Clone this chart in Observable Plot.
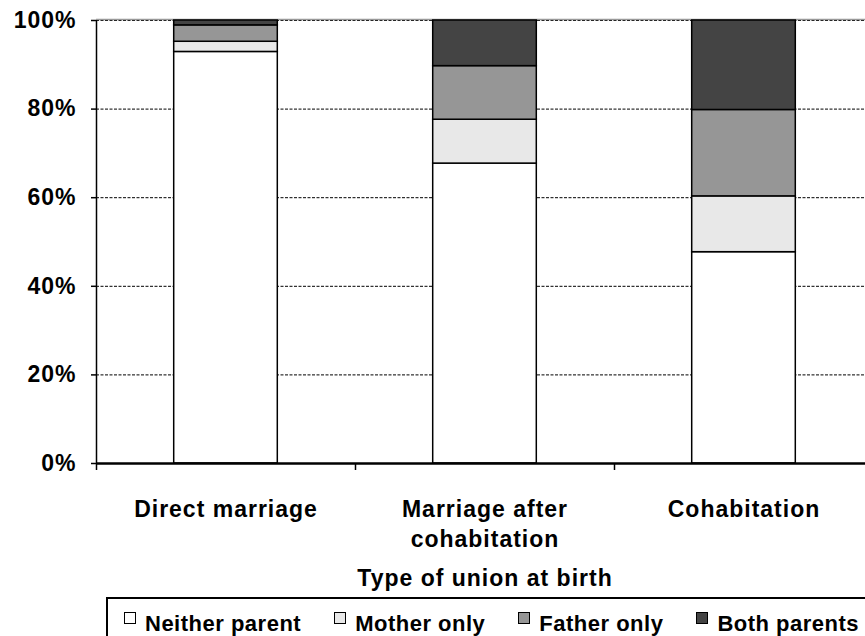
<!DOCTYPE html>
<html>
<head>
<meta charset="utf-8">
<script src="https://cdn.jsdelivr.net/npm/d3@7"></script>
<script src="https://cdn.jsdelivr.net/npm/@observablehq/plot@0.6"></script>
<style>
  html, body { margin: 0; padding: 0; background: #fff; overflow: hidden; }
  body { width: 865px; height: 636px; position: relative; font-family: "Liberation Sans", Arial, sans-serif; }
  #chart svg text { letter-spacing: 1px; }
  #legend {
    position: absolute; left: 106px; top: 597px; width: 780px; height: 50px;
    border: 2px solid #000; box-sizing: border-box; background: #fff;
    font-weight: bold; font-size: 22px; color: #000; letter-spacing: 0.5px;
    display: flex; align-items: baseline; padding: 12px 0 0 16px; white-space: nowrap;
  }
  .item { display: inline-flex; align-items: baseline; margin-right: 33px; }
  .sw { display: inline-block; width: 10px; height: 10px; border: 1.2px solid #000; margin-right: 9px; position: relative; top: -7px; }
</style>
</head>
<body>
<div id="chart"></div>
<div id="legend"></div>
<script>
const categories = ["Direct marriage", "Marriage after\ncohabitation", "Cohabitation"];
const series = ["Neither parent", "Mother only", "Father only", "Both parents"];
const neitherParent = [92.9, 67.7, 47.7];
const motherOnly   = [2.3, 9.9, 12.6];
const fatherOnly   = [3.7, 12.1, 19.5];
const bothParents  = [1.1, 10.3, 20.2];
const yTicks = [0, 20, 40, 60, 80, 100];
const colors = ["#ffffff", "#e8e8e8", "#969696", "#444444"];

const values = [neitherParent, motherOnly, fatherOnly, bothParents];
const rows = [];
categories.forEach((c, i) => {
  let acc = 0;
  series.forEach((s, k) => {
    const v = values[k][i];
    rows.push({i, category: c, series: s, y1: acc, y2: acc + v});
    acc += v;
  });
});

const font = "Liberation Sans, Arial, sans-serif";
const chart = Plot.plot({
  width: 865,
  height: 595,
  marginTop: 20,
  marginBottom: 132,
  marginLeft: 96,
  marginRight: 0,
  style: {fontFamily: font, background: "#fff", overflow: "visible"},
  x: {domain: [0, 3], range: [96, 873]},
  y: {domain: [0, 100]},
  color: {domain: series, range: colors},
  marks: [
    Plot.ruleY(yTicks.filter(d => d > 0), {stroke: "#000", strokeWidth: 1, strokeDasharray: "3,1.5"}),
    Plot.ruleY([100], {stroke: "#999", strokeWidth: 1.5, dy: -1}),
    Plot.rectY(rows, {x1: d => d.i + 0.3, x2: d => d.i + 0.7, y1: "y1", y2: "y2", fill: "series", stroke: "#000", strokeWidth: 1.5}),
    Plot.axisY({ticks: yTicks, tickFormat: d => d + "%", tickSize: 5, tickPadding: 15, fontSize: 23, fontWeight: "bold", stroke: "#000", strokeWidth: 1.5, label: null, color: "#000"}),
    Plot.ruleX([0], {y1: 0, y2: 100, stroke: "#000", strokeWidth: 1.5}),
    Plot.axisX({ticks: [0, 1, 2], tickSize: 7, tickFormat: () => "", label: null, stroke: "#000", strokeWidth: 1.5}),
    Plot.ruleY([0], {stroke: "#000", strokeWidth: 2.5}),
    Plot.text(categories, {x: (d, i) => i + 0.5, y: 0, text: d => d, lineAnchor: "top", dy: 32, lineHeight: 1.3, fontSize: 23, fontWeight: "bold", fill: "#000"}),
    Plot.text(["Type of union at birth"], {x: 1.5, y: 0, text: d => d, lineAnchor: "top", dy: 106, fontSize: 23, fontWeight: "bold", fill: "#000"})
  ]
});
document.getElementById("chart").appendChild(chart);

const legend = document.getElementById("legend");
series.forEach((s, k) => {
  const item = document.createElement("span");
  item.className = "item";
  const sw = document.createElement("span");
  sw.className = "sw";
  sw.style.background = colors[k];
  item.appendChild(sw);
  item.appendChild(document.createTextNode(s));
  legend.appendChild(item);
});
</script>
</body>
</html>
